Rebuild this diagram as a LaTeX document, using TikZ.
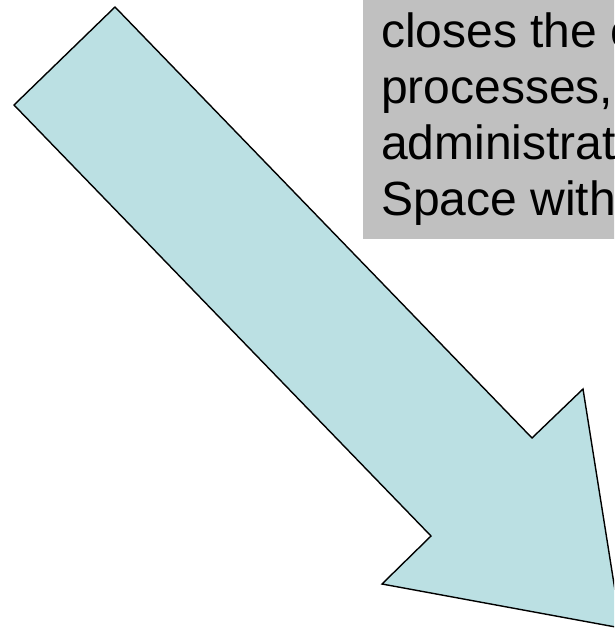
\documentclass[tikz,border=0pt]{standalone}
\usepackage{fontspec}
\setmainfont{Liberation Sans}
\definecolor{arrowfill}{HTML}{BBE0E3}
\definecolor{boxgray}{HTML}{C0C0C0}
\tikzset{
  bigarrow/.style={fill=arrowfill, draw=black, line width=1.4pt, line join=miter},
  graybox/.style={fill=boxgray},
  boxtext/.style={anchor=base west, inner sep=0pt, font=\fontsize{48}{56}\selectfont}
}
\begin{document}
\begin{tikzpicture}[x=1pt,y=-1pt]
\useasboundingbox (0,0) rectangle (614,632);
\clip (0,0) rectangle (614,632);
% big arrow
\filldraw[bigarrow] (115,7) -- (532,438) -- (583,389) -- (621,628) -- (382,584) -- (431,536) -- (14,105) -- cycle;
% gray text box
\fill[graybox] (363,-5) rectangle (640,239);
\node[boxtext] (l1) at (381,47) {closes the c};
\node[boxtext] (l2) at (381,103) {processes,};
\node[boxtext] (l3) at (381,159) {administrat};
\node[boxtext] (l4) at (381,215) {Space with};
\end{tikzpicture}
\end{document}
